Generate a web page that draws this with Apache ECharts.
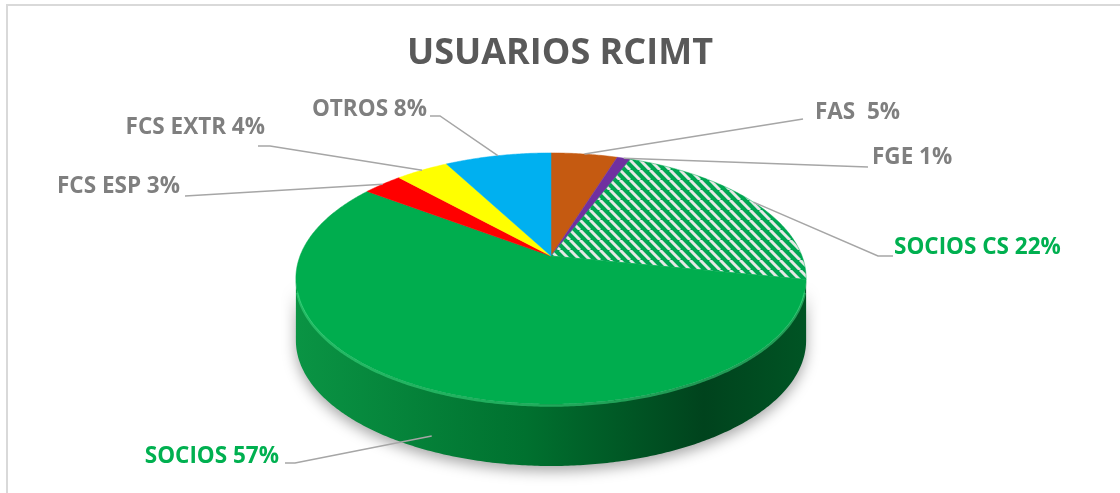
<!DOCTYPE html>
<html>
<head>
<meta charset="utf-8">
<script src="https://cdn.jsdelivr.net/npm/echarts@6/dist/echarts.min.js"></script>
<style>
html, body { margin: 0; padding: 0; background: #fff; }
#chart { width: 1120px; height: 493px; }
</style>
</head>
<body>
<div id="chart"></div>
<script>
// datos del grafico
var names = ['FAS ', 'FGE', 'SOCIOS CS', 'SOCIOS', 'FCS ESP', 'FCS EXTR', 'OTROS'];
var values = [5, 1, 22, 57, 3, 4, 8];
var colors = ['#C55A11', '#7030A0', '#00A651', '#00AD4E', '#FF0000', '#FFFF00', '#00B0F0'];
var labelColors = ['#7F7F7F', '#7F7F7F', '#00B050', '#00B050', '#7F7F7F', '#7F7F7F', '#7F7F7F'];

// posicion de las etiquetas (colocadas a mano como en Excel)
var labelLayout = [
    {x: 815, y: 113, align: 'left', line: [[803, 119]]},
    {x: 872, y: 158, align: 'left', line: [[868, 167]]},
    {x: 894, y: 248, align: 'left', line: [[878, 256], [893, 256]]},
    {x: 279, y: 457, align: 'right', line: [[295, 463], [285, 463]]},
    {x: 180, y: 187, align: 'right', line: [[185, 196]]},
    {x: 265, y: 128, align: 'right', line: [[270, 146], [258, 146]]},
    {x: 427, y: 110, align: 'right', line: [[440, 116], [430, 116]]}
];

// geometria de la tarta en perspectiva
var cx = 551, cy = 256, RX = 251, RY = 121.5, PERSP = 0.179, DEPTH = 62;
var total = values.reduce(function (a, b) { return a + b; }, 0);
var angles = [];
var acc = 0;
values.forEach(function (v) {
    var a0 = acc / total * Math.PI * 2;
    acc += v;
    angles.push([a0, acc / total * Math.PI * 2]);
});
var silL = Math.acos(-PERSP), silR = Math.PI * 2 - silL;

function pt(t, dy) {
    var w = 1 + PERSP * Math.cos(t);
    return [cx + RX * Math.sin(t) / w, cy - RY * Math.cos(t) / w + (dy || 0)];
}
function arc(a, b, dy) {
    var pts = [];
    var n = Math.max(2, Math.ceil((b - a) / 0.01));
    for (var k = 0; k <= n; k++) {
        pts.push(pt(a + (b - a) * k / n, dy));
    }
    return pts;
}

// trama rayada para SOCIOS CS
var hatch = document.createElement('canvas');
hatch.width = 10;
hatch.height = 10;
var hc = hatch.getContext('2d');
hc.fillStyle = '#00A651';
hc.fillRect(0, 0, 10, 10);
hc.strokeStyle = '#E4E8E6';
hc.lineWidth = 3;
for (var k = -1; k <= 1; k++) {
    hc.beginPath();
    hc.moveTo(k * 10, 0);
    hc.lineTo(k * 10 + 10, 10);
    hc.stroke();
}

var sideGradient = {
    type: 'linear', x: 295, y: 0, x2: 806, y2: 0, global: true,
    colorStops: [
        {offset: 0, color: '#0A9444'},
        {offset: 0.45, color: '#00712F'},
        {offset: 0.8, color: '#00431D'},
        {offset: 1, color: '#005424'}
    ]
};

var chart = echarts.init(document.getElementById('chart'));
chart.setOption({
    animation: false,
    title: {
        text: 'USUARIOS RCIMT',
        left: 'center',
        top: 31,
        textStyle: {
            fontFamily: 'Open Sans',
            fontSize: 36,
            fontWeight: 'bold',
            color: '#595959'
        }
    },
    graphic: [{
        type: 'rect',
        shape: {x: 7, y: 5, width: 1300, height: 700},
        style: {fill: 'none', stroke: '#D9D9D9', lineWidth: 2},
        silent: true
    }],
    series: [
        {
            // lateral (grosor) visible
            type: 'custom',
            coordinateSystem: 'none',
            data: values,
            z: 1,
            renderItem: function (params) {
                var i = params.dataIndex;
                var a = Math.max(angles[i][0], silL), b = Math.min(angles[i][1], silR);
                if (b <= a) return {type: 'group', children: []};
                var pts = arc(a, b, 0).concat(arc(a, b, DEPTH).reverse());
                return {
                    type: 'polygon',
                    shape: {points: pts},
                    style: {
                        fill: sideGradient,
                        shadowBlur: 14,
                        shadowColor: 'rgba(0,0,0,0.35)',
                        shadowOffsetY: 5
                    }
                };
            }
        },
        {
            // cara superior
            type: 'custom',
            coordinateSystem: 'none',
            data: values,
            z: 2,
            renderItem: function (params) {
                var i = params.dataIndex;
                var pts = [[cx, cy]].concat(arc(angles[i][0], angles[i][1], 0));
                var fill = i === 2 ? {image: hatch, repeat: 'repeat'} : colors[i];
                var children = [{
                    type: 'polygon',
                    shape: {points: pts},
                    style: {fill: fill, stroke: fill === colors[i] ? colors[i] : '#00A651', lineWidth: 0.5}
                }];
                var a = Math.max(angles[i][0], silL + 0.1), b = Math.min(angles[i][1], silR - 0.1);
                if (b > a) {
                    children.push({
                        type: 'polyline',
                        shape: {points: arc(a, b, 1.5)},
                        style: {stroke: 'rgba(60,220,130,0.55)', lineWidth: 2.5, fill: null}
                    });
                }
                return {type: 'group', children: children};
            }
        },
        {
            // etiquetas con lineas guia
            type: 'custom',
            coordinateSystem: 'none',
            data: values,
            z: 3,
            renderItem: function (params) {
                var i = params.dataIndex;
                var lay = labelLayout[i];
                var mid = (angles[i][0] + angles[i][1]) / 2;
                var front = mid > silL && mid < silR;
                var start = pt(mid, front ? DEPTH * 0.75 : 0);
                var line = [start].concat(lay.line);
                var pct = Math.round(values[i] / total * 100);
                return {
                    type: 'group',
                    children: [{
                        type: 'polyline',
                        shape: {points: line},
                        style: {stroke: '#A6A6A6', lineWidth: 1.5, fill: null}
                    }, {
                        type: 'text',
                        style: {
                            text: names[i] + ' ' + pct + '%',
                            x: lay.x,
                            y: lay.y,
                            align: lay.align,
                            verticalAlign: 'middle',
                            fill: labelColors[i],
                            font: 'bold 22.5px "Open Sans"'
                        }
                    }]
                };
            }
        }
    ]
});
</script>
</body>
</html>
